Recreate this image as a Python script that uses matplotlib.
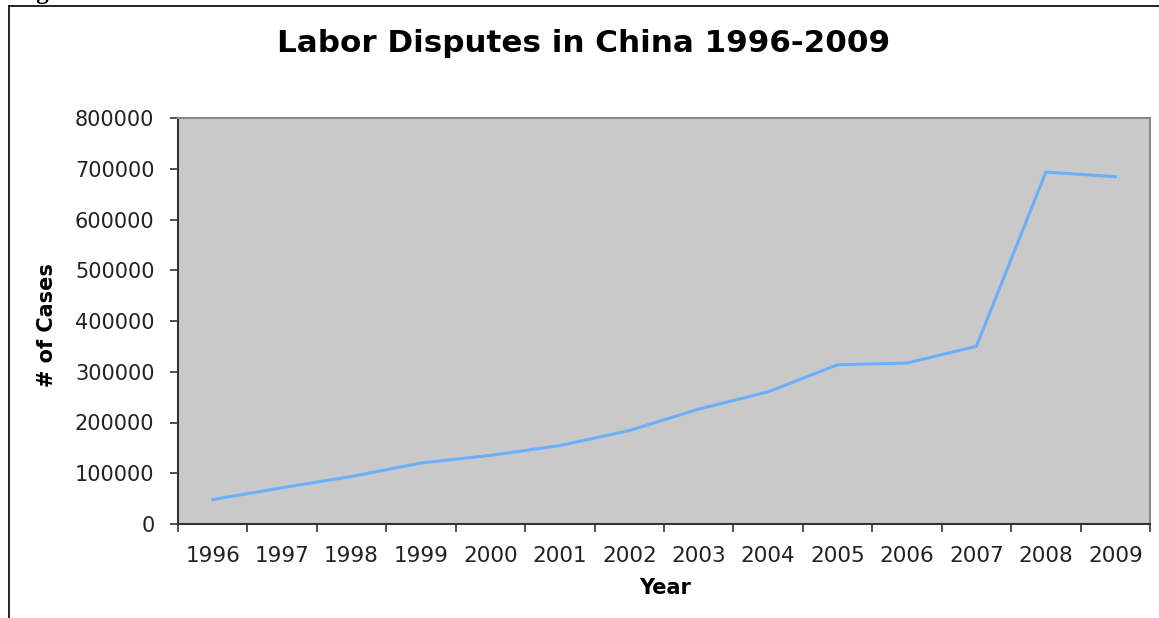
import matplotlib.pyplot as plt
from matplotlib.lines import Line2D
import numpy as np

years = ['1996', '1997', '1998', '1999', '2000', '2001', '2002',
         '2003', '2004', '2005', '2006', '2007', '2008', '2009']
cases = [48121, 71524, 93649, 120191, 135206, 154621, 184116,
         226391, 260471, 313773, 317162, 350182, 693465, 684379]
yticks = [0, 100000, 200000, 300000, 400000, 500000, 600000, 700000, 800000]

W, H = 1159, 618
fig = plt.figure(figsize=(W / 100, H / 100), dpi=100)
fig.patch.set_facecolor('white')

# chart area frame (left and top edges are all that show)
fig.add_artist(Line2D([9 / W, 9 / W], [0, 1 - 6 / H], color='#111111', lw=1.3))
fig.add_artist(Line2D([9 / W, 1], [1 - 6 / H, 1 - 6 / H], color='#111111', lw=1.3))
# caption of the page, cropped off at the top in the source
fig.text(14 / W, 1 + 1 / H, 'Figure 1', fontsize=18, fontweight='bold',
         family='Liberation Serif', va='baseline', ha='left')

ax = fig.add_axes([178 / W, 1 - 524 / H, (1150 - 178) / W, (524 - 118) / H])
ax.set_facecolor('#c9c9c9')

x = np.arange(len(years))
ax.plot(x, cases, color='#6aaefc', lw=2.2, solid_joinstyle='miter')

ax.set_xlim(-0.5, len(years) - 0.5)
ax.set_ylim(0, 800000)
ax.set_yticks(yticks)
ax.set_yticklabels([str(v) for v in yticks])
ax.set_xticks(x)
ax.set_xticklabels(years)
ax.set_xticks(np.arange(-0.5, len(years)), minor=True)
ax.tick_params(axis='x', which='major', length=0, pad=16, labelsize=15.5, labelcolor='#222222')
ax.tick_params(axis='x', which='minor', length=6, width=1.2, color='#333333', direction='out')
ax.tick_params(axis='y', length=6, width=1.2, color='#333333', pad=11,
               labelsize=15, labelcolor='#222222')

for side in ['left', 'bottom']:
    ax.spines[side].set_color('#333333')
    ax.spines[side].set_linewidth(1.5)
for side in ['top', 'right']:
    ax.spines[side].set_color('#888888')
    ax.spines[side].set_linewidth(1.5)

fig.text(584 / W, 1 - 43 / H, 'Labor Disputes in China 1996-2009', fontsize=22.3,
         fontweight='bold', ha='center', va='center')
fig.text(665 / W, 1 - 588 / H, 'Year', fontsize=15, fontweight='bold',
         ha='center', va='center')
fig.text(47 / W, 1 - 325 / H, '# of Cases', fontsize=15, fontweight='bold',
         ha='center', va='center', rotation=90)

fig.savefig('out.png', dpi=100, facecolor='white')
